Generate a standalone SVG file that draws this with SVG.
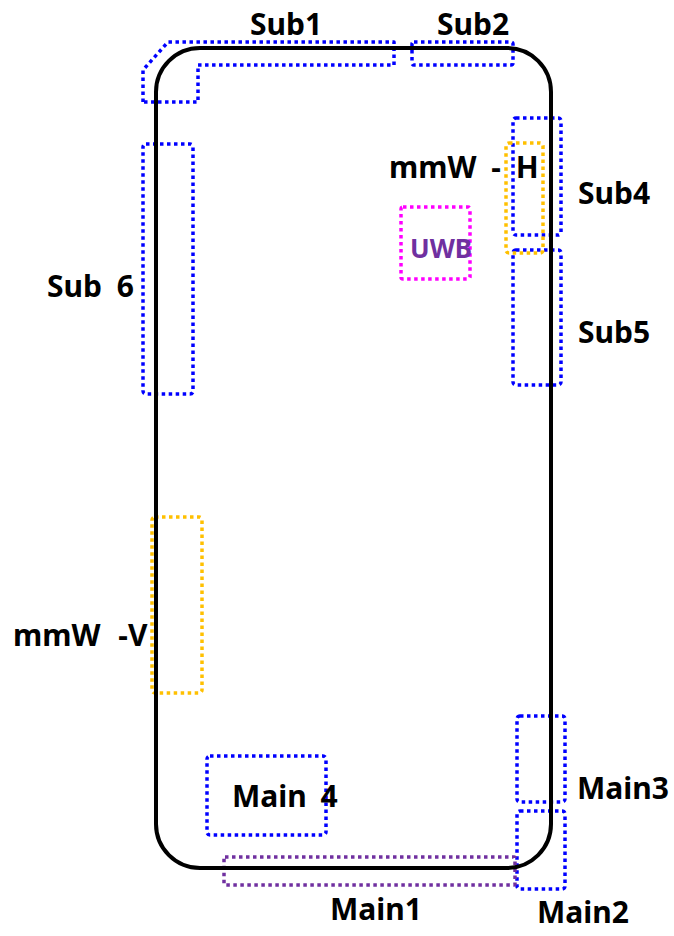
<svg xmlns="http://www.w3.org/2000/svg" width="674" height="936" viewBox="0 0 674 936">
<style>
text{font-family:"Noto Sans","Open Sans","DejaVu Sans",sans-serif;font-weight:bold;font-size:30px;fill:#000;word-spacing:7px}
.ant{fill:none;stroke-width:3.5;stroke-dasharray:3.5 3.5;stroke-linejoin:round}
.blue{stroke:#0000FF}
.yel{stroke:#FFC000}
.mag{stroke:#FF00FF}
.pur{stroke:#7030A0}
.phone{fill:none;stroke:#000;stroke-width:4}
</style>
<rect width="674" height="936" fill="#fff"/>
<g id="sub1"><path class="ant blue" d="M143,102 L143,70 L168,42 L394,42 L394,65 L198,65 L198,102 Z"/><text x="250" y="35">Sub1</text></g>
<g id="sub2"><rect class="ant blue" x="412" y="42" width="101" height="23" rx="2"/><text x="437" y="35">Sub2</text></g>
<g id="sub4"><rect class="ant blue" x="513" y="118" width="48" height="117" rx="3"/><text x="578" y="204">Sub4</text></g>
<g id="sub5"><rect class="ant blue" x="513" y="250" width="48" height="135" rx="3"/><text x="578" y="343">Sub5</text></g>
<g id="mmw-h"><rect class="ant yel" x="506" y="143" width="37" height="110" rx="3"/><text x="389" y="178">mmW - H</text></g>
<g id="uwb"><rect class="ant mag" x="401" y="207" width="69" height="72" rx="2"/><text x="410" y="258" style="fill:#7030A0;font-size:26px">UWB</text></g>
<g id="sub6"><rect class="ant blue" x="143" y="144" width="50" height="250" rx="3"/><text x="47" y="297">Sub 6</text></g>
<g id="mmw-v"><rect class="ant yel" x="152" y="517" width="50" height="176" rx="3"/><text x="13" y="646" style="word-spacing:10px">mmW -V</text></g>
<g id="main4"><rect class="ant blue" x="207" y="756" width="119" height="79" rx="3"/><text x="232" y="807" style="word-spacing:6px">Main 4</text></g>
<g id="main3"><rect class="ant blue" x="517" y="716" width="48" height="86" rx="3"/><text x="577" y="799">Main3</text></g>
<g id="main2"><rect class="ant blue" x="517" y="811" width="48" height="78" rx="3"/><text x="537" y="923">Main2</text></g>
<g id="main1"><rect class="ant pur" x="224" y="857" width="291" height="28" rx="1"/><text x="330" y="920">Main1</text></g>
<g id="phone"><rect class="phone" x="156" y="48" width="395" height="820" rx="44"/></g>
</svg>
